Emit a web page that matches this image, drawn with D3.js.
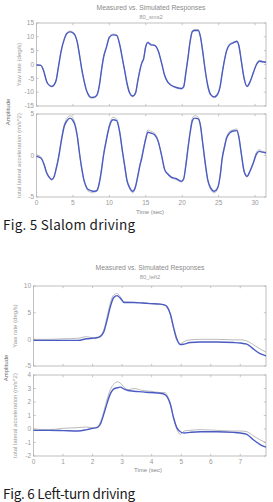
<!DOCTYPE html>
<html><head><meta charset="utf-8">
<script src="https://cdn.jsdelivr.net/npm/d3@7"></script>
<style>
html,body{margin:0;padding:0;background:#fff;}
svg{display:block;}
</style></head>
<body>
<svg id="c" width="273" height="502"></svg>
<script>
// ---------- DATA ----------
const titleText = "Measured vs. Simulated Responses";
const slalomSubtitle = "80_sms2";
const leftSubtitle = "80_left2";
const yawLabel = "Yaw rate (deg/s)";
const accLabel = "total lateral acceleration (m/s^2)";
const ampLabel = "Amplitude";
const timeLabel = "Time (sec)";
const caption5 = "Fig. 5 Slalom driving";
const caption6 = "Fig. 6 Left-turn driving";

const slalomXTicks = [0, 5, 10, 15, 20, 25, 30];
const slalomYawTicks = [15, 10, 5, 0, -5, -10, -15];
const slalomAccTicks = [5, 0, -5];
const leftXTicks = [0, 1, 2, 3, 4, 5, 6, 7];
const leftYawTicks = [10, 5, 0, -5];
const leftAccTicks = [4, 3, 2, 1, 0, -1, -2];

const slalomTime = [0,0.6,1.0,1.4,1.8,2.1,2.4,2.7,3.0,3.4,3.8,4.2,4.6,5.0,5.3,5.6,5.9,6.2,6.5,6.8,7.1,7.4,7.7,8.0,8.3,8.6,8.9,9.2,9.6,10.0,10.5,11.0,11.4,11.8,12.1,12.4,12.8,13.2,13.6,13.9,14.2,14.45,14.7,15.0,15.3,15.7,16.2,16.7,17.2,17.6,18.0,18.5,19.2,19.9,20.2,20.5,20.8,21.1,21.4,21.7,22.2,22.5,22.8,23.1,23.5,23.9,24.4,24.9,25.2,25.5,25.8,26.1,26.5,27.0,27.5,27.8,28.1,28.5,28.9,29.3,29.8,30.2,30.6,31.0,31.5];

const slalomYawSim = [-0.2,-0.3,-2.5,-6.2,-7.6,-7.9,-7.4,-5.7,-1.1,5.0,9.0,11.3,11.8,11.4,10.5,8.0,3.5,-1.5,-5.5,-8.8,-10.8,-11.8,-11.9,-11.7,-11.0,-8.0,-2.5,2.5,6.2,9.8,10.7,10.5,7.4,2.0,-2.1,-6.5,-10.3,-11.4,-10.2,-6.0,-2.0,0.5,2.0,6.5,7.9,7.1,6.9,5.0,0.2,-4.0,-6.3,-7.5,-8.3,-8.7,-8.0,-3.0,2.5,8.5,11.9,12.3,12.3,10.0,5.0,-1.0,-7.5,-10.8,-11.7,-10.5,-8.0,-3.0,1.5,5.0,7.1,7.8,8.3,6.5,1.5,-5.0,-7.9,-6.3,-2.7,0.0,1.2,1.0,0.8];
const slalomYawMeas = [-0.1,-0.2,-2.2,-6.0,-7.7,-8.1,-7.6,-5.5,-0.8,5.3,9.3,11.6,12.1,11.7,10.7,8.2,3.4,-1.7,-5.8,-9.1,-11.1,-12.1,-12.2,-11.9,-11.2,-7.8,-2.2,2.8,6.5,10.1,11.0,10.8,7.6,1.9,-2.3,-6.8,-10.6,-11.7,-10.4,-5.8,-1.7,0.8,2.3,6.8,8.2,7.4,7.1,5.2,0.1,-4.2,-6.5,-7.7,-8.5,-8.9,-8.1,-2.8,2.8,8.8,12.2,12.7,12.6,10.2,4.9,-1.2,-7.8,-11.1,-12.0,-10.7,-7.9,-2.7,1.8,5.3,7.4,8.1,8.6,6.6,1.3,-5.3,-8.1,-6.4,-2.5,0.3,1.5,1.2,0.9];

const slalomAccSim = [-0.1,-0.3,-1.0,-2.1,-2.7,-2.9,-2.6,-1.6,-0.4,1.7,3.5,4.2,4.5,4.2,3.6,2.3,0.3,-1.5,-2.9,-3.7,-4.1,-4.2,-4.3,-4.3,-4.2,-3.4,-1.9,0.0,1.9,3.5,4.3,4.2,2.9,0.5,-1.2,-2.9,-3.9,-4.3,-3.7,-2.5,-1.2,-0.3,0.8,2.0,2.8,2.7,2.5,1.7,-0.1,-1.7,-2.2,-2.6,-2.8,-3.1,-2.8,-1.2,0.9,2.8,4.2,4.5,4.4,3.6,1.6,-0.5,-2.9,-3.9,-4.3,-3.8,-2.5,-0.3,1.0,2.1,2.7,2.95,3.0,2.1,0.3,-1.9,-2.5,-1.9,-0.8,0.2,0.5,0.4,0.3];
const slalomAccMeas = [0.1,-0.2,-0.9,-2.0,-2.6,-3.0,-2.5,-1.5,-0.2,1.9,3.7,4.5,4.8,4.5,3.8,2.4,0.2,-1.6,-3.0,-3.8,-4.3,-4.4,-4.5,-4.4,-4.3,-3.3,-1.7,0.2,2.1,3.7,4.6,4.4,3.0,0.4,-1.3,-3.0,-4.0,-4.5,-3.8,-2.4,-1.0,-0.1,1.0,2.2,3.1,2.9,2.7,1.8,-0.2,-1.8,-2.3,-2.7,-2.9,-3.2,-2.9,-1.0,1.1,3.0,4.5,4.8,4.6,3.7,1.5,-0.7,-3.0,-4.1,-4.5,-3.9,-2.4,-0.1,1.2,2.3,2.9,3.1,3.2,2.2,0.2,-2.0,-2.6,-1.8,-0.7,0.4,0.7,0.5,0.4];

const leftTime = [0,0.5,1.0,1.5,1.8,2.0,2.15,2.26,2.38,2.49,2.6,2.71,2.83,2.94,3.07,3.2,3.4,3.7,3.95,4.29,4.45,4.52,4.63,4.74,4.85,4.97,5.1,5.3,5.64,6.2,6.77,7.0,7.22,7.44,7.67,7.87];
const leftYawSim = [-0.2,-0.2,-0.2,-0.2,0.1,0.2,0.3,0.5,1.4,3.6,6.1,7.8,8.2,7.7,6.9,6.9,6.9,6.8,6.7,6.6,6.4,6.1,4.8,2.3,0.1,-1.0,-0.9,-0.6,-0.5,-0.5,-0.6,-0.7,-0.9,-1.8,-2.7,-3.1];
const leftYawMeas = [0.0,0.0,0.1,0.2,0.5,0.3,0.4,0.7,1.8,4.2,6.8,8.3,8.6,8.0,7.0,7.0,6.9,6.8,6.7,6.6,6.4,6.0,4.6,2.0,-0.2,-0.8,-0.4,-0.1,0.0,0.0,-0.1,-0.1,-0.3,-1.0,-1.8,-2.4];
const leftAccSim = [-0.1,-0.1,-0.12,-0.15,-0.05,0.05,0.1,0.35,1.1,1.9,2.6,2.95,3.05,3.1,2.95,2.85,2.8,2.75,2.7,2.65,2.55,2.4,1.85,0.85,0.1,-0.2,-0.3,-0.25,-0.2,-0.2,-0.25,-0.3,-0.4,-0.8,-1.15,-1.35];
const leftAccMeas = [0.0,-0.05,0.05,0.1,0.15,0.1,0.15,0.5,1.3,2.2,2.9,3.3,3.5,3.4,3.1,2.9,3.0,2.85,2.8,2.7,2.7,2.5,1.9,0.8,0.0,-0.4,-0.15,-0.1,-0.05,-0.1,-0.15,-0.15,-0.2,-0.5,-0.8,-1.0];

// ---------- LAYOUT ----------
const svg = d3.select("#c");
const FONT = "'Liberation Sans', Arial, sans-serif";
const txtGray = "#9a9a9a";
const frameCol = "#b0b0b0";
const simCol = "#4a5bc4";
const measCol = "#a8a8a8";

function panel(o) {
  const x = d3.scaleLinear().domain(o.xDomain).range([o.left, o.right]);
  const y = d3.scaleLinear().domain(o.yDomain).range([o.bottom, o.top]);
  const g = svg.append("g");
  g.append("rect").attr("x", o.left).attr("y", o.top)
    .attr("width", o.right - o.left).attr("height", o.bottom - o.top)
    .attr("fill", "none").attr("stroke", frameCol).attr("stroke-width", 0.8);
  // ticks (inward, mirrored)
  const tl = 2.2;
  o.xTicks.forEach(t => {
    const px = x(t);
    g.append("line").attr("x1", px).attr("x2", px).attr("y1", o.bottom).attr("y2", o.bottom - tl)
      .attr("stroke", frameCol).attr("stroke-width", 0.7);
    g.append("line").attr("x1", px).attr("x2", px).attr("y1", o.top).attr("y2", o.top + tl)
      .attr("stroke", frameCol).attr("stroke-width", 0.7);
    if (o.xLabels) g.append("text").attr("x", px).attr("y", o.bottom + 8)
      .attr("text-anchor", "middle").attr("font-size", 6.5).attr("font-family", FONT)
      .attr("fill", txtGray).text(t);
  });
  o.yTicks.forEach(t => {
    const py = y(t);
    g.append("line").attr("x1", o.left).attr("x2", o.left + tl).attr("y1", py).attr("y2", py)
      .attr("stroke", frameCol).attr("stroke-width", 0.7);
    g.append("line").attr("x1", o.right).attr("x2", o.right - tl).attr("y1", py).attr("y2", py)
      .attr("stroke", frameCol).attr("stroke-width", 0.7);
    g.append("text").attr("x", o.left - 2.5).attr("y", py + 2.3)
      .attr("text-anchor", "end").attr("font-size", 6.5).attr("font-family", FONT)
      .attr("fill", txtGray).text(t);
  });
  // y label
  const cy = (o.top + o.bottom) / 2;
  g.append("text").attr("transform", `translate(${o.ylabX},${cy}) rotate(-90)`)
    .attr("text-anchor", "middle").attr("font-size", 6).attr("font-family", FONT)
    .attr("fill", txtGray).text(o.yLabel);
  const line = d3.line().x(d => x(d[0])).y(d => y(d[1])).curve(d3.curveMonotoneX);
  g.append("path").datum(d3.zip(o.time, o.meas)).attr("d", line)
    .attr("fill", "none").attr("stroke", measCol).attr("stroke-width", 0.8);
  g.append("path").datum(d3.zip(o.time, o.sim)).attr("d", line)
    .attr("fill", "none").attr("stroke", simCol).attr("stroke-width", 1.4);
}

function titles(cx, y1, sub) {
  svg.append("text").attr("x", cx).attr("y", y1).attr("text-anchor", "middle")
    .attr("font-size", 6.8).attr("font-family", FONT).attr("fill", "#8a8a8a").text(titleText);
  svg.append("text").attr("x", cx).attr("y", y1 + 9).attr("text-anchor", "middle")
    .attr("font-size", 5.8).attr("font-family", FONT).attr("fill", txtGray).text(sub);
}

// ---------- Fig. 5 ----------
titles(151, 9.5, slalomSubtitle);
panel({left: 36.5, right: 266, top: 23, bottom: 106, xDomain: [0, 31.5], yDomain: [-15, 15],
  xTicks: slalomXTicks, yTicks: slalomYawTicks, xLabels: false, yLabel: yawLabel, ylabX: 21,
  time: slalomTime, sim: slalomYawSim, meas: slalomYawMeas});
panel({left: 36.5, right: 266, top: 114, bottom: 197, xDomain: [0, 31.5], yDomain: [-5, 5],
  xTicks: slalomXTicks, yTicks: slalomAccTicks, xLabels: true, yLabel: accLabel, ylabX: 21,
  time: slalomTime, sim: slalomAccSim, meas: slalomAccMeas});
svg.append("text").attr("transform", "translate(10,112) rotate(-90)").attr("text-anchor", "middle")
  .attr("font-size", 6).attr("font-family", FONT).attr("fill", "#666").text(ampLabel);
svg.append("text").attr("x", 150).attr("y", 213.5).attr("text-anchor", "middle")
  .attr("font-size", 6).attr("font-family", FONT).attr("fill", "#888").text(timeLabel);
svg.append("text").attr("x", 3).attr("y", 229.5).attr("font-size", 13.5)
  .attr("font-family", "'Noto Sans CJK KR','Noto Sans',sans-serif").attr("fill", "#1a1a1a")
  .attr("textLength", 132).attr("lengthAdjust", "spacing").text(caption5);

// ---------- Fig. 6 ----------
titles(150, 270, leftSubtitle);
panel({left: 33.5, right: 266, top: 286, bottom: 366, xDomain: [0, 7.87], yDomain: [-5, 10],
  xTicks: leftXTicks, yTicks: leftYawTicks, xLabels: false, yLabel: yawLabel, ylabX: 17,
  time: leftTime, sim: leftYawSim, meas: leftYawMeas});
panel({left: 33.5, right: 266, top: 375, bottom: 456, xDomain: [0, 7.87], yDomain: [-2, 4],
  xTicks: leftXTicks, yTicks: leftAccTicks, xLabels: true, yLabel: accLabel, ylabX: 17,
  time: leftTime, sim: leftAccSim, meas: leftAccMeas});
svg.append("text").attr("transform", "translate(8,368) rotate(-90)").attr("text-anchor", "middle")
  .attr("font-size", 6).attr("font-family", FONT).attr("fill", "#666").text(ampLabel);
svg.append("text").attr("x", 148).attr("y", 472).attr("text-anchor", "middle")
  .attr("font-size", 6).attr("font-family", FONT).attr("fill", "#888").text(timeLabel);
svg.append("text").attr("x", 3).attr("y", 498.5).attr("font-size", 13.5)
  .attr("font-family", "'Noto Sans CJK KR','Noto Sans',sans-serif").attr("fill", "#1a1a1a")
  .attr("textLength", 132).attr("lengthAdjust", "spacing").text(caption6);
</script>
</body></html>
